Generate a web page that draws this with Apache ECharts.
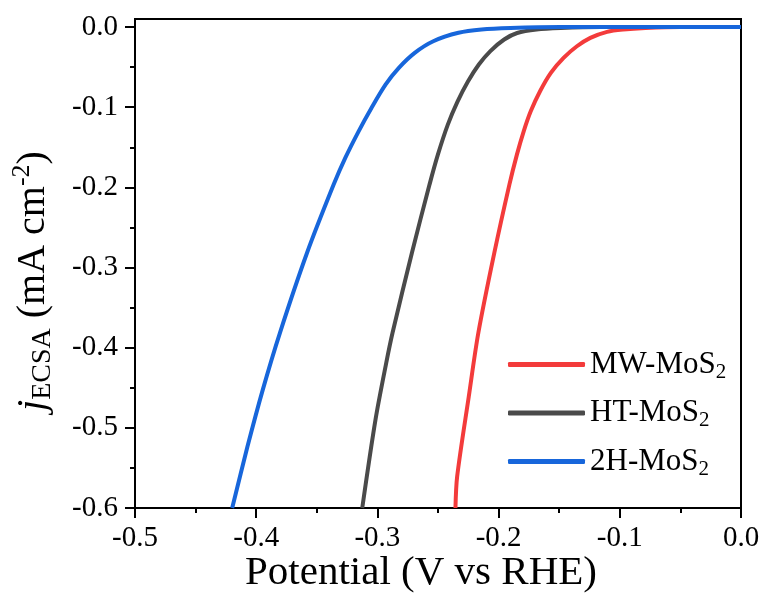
<!DOCTYPE html>
<html>
<head>
<meta charset="utf-8">
<script src="https://cdn.jsdelivr.net/npm/echarts@6/dist/echarts.min.js"></script>
<style>
  html, body { margin: 0; padding: 0; background: #ffffff; }
  #chart { width: 765px; height: 594px; }
</style>
</head>
<body>
<div id="chart"></div>
<script>
// Polarisation curves normalised by ECSA (potential in V vs RHE, current in mA cm^-2)
const seriesNames = ['MW-MoS2', 'HT-MoS2', '2H-MoS2'];
const seriesColors = ['#f33b3b', '#4a4a4a', '#1766db'];

const mwPotential = [-0.2356, -0.2342, -0.2246, -0.2167, -0.2035, -0.1911, -0.1849, -0.1793, -0.1735, -0.1658, -0.1569, -0.1464, -0.1354, -0.1243, -0.1105, -0.0972, -0.0788, -0.0499, 0.0];
const mwCurrent   = [-0.600, -0.5608, -0.4609, -0.3814, -0.2815, -0.1966, -0.1592, -0.1301, -0.1051, -0.0801, -0.0572, -0.0385, -0.0240, -0.0135, -0.0060, -0.0031, -0.0012, 0.0, 0.0];

const htPotential = [-0.3125, -0.3016, -0.2927, -0.2875, -0.2715, -0.2570, -0.2501, -0.2419, -0.2339, -0.2253, -0.2163, -0.2068, -0.1954, -0.1847, -0.1687, -0.1489, -0.1159, 0.0];
const htCurrent   = [-0.600, -0.4900, -0.4189, -0.3814, -0.2815, -0.1966, -0.1592, -0.1217, -0.0930, -0.0680, -0.0468, -0.0300, -0.0156, -0.0075, -0.0031, -0.0012, 0.0, 0.0];

const h2Potential = [-0.4198, -0.4072, -0.3946, -0.3804, -0.3581, -0.3361, -0.3265, -0.3155, -0.3049, -0.2933, -0.2823, -0.2692, -0.2539, -0.2331, -0.2141, -0.1902, -0.1489, 0.0];
const h2Current   = [-0.600, -0.5234, -0.4526, -0.3814, -0.2819, -0.1966, -0.1633, -0.1301, -0.1009, -0.0718, -0.0509, -0.0322, -0.0177, -0.0072, -0.0031, -0.0012, 0.0, 0.0];

// Axis ranges and tick spacing
const xMin = -0.5, xMax = 0.0, xStep = 0.1;
const yMin = -0.6, yMax = 0.0, yStep = 0.1;
const yTop = 0.01; // headroom above 0.0 inside the frame

const SERIF = '"Liberation Serif", "Times New Roman", serif';
const INK = '#000000';

const pairs = (xs, ys) => xs.map((x, i) => [x, ys[i]]);
const seriesData = [pairs(mwPotential, mwCurrent), pairs(htPotential, htCurrent), pairs(h2Potential, h2Current)];

const tickStyle = { color: INK, width: 2 };
const labelStyle = { color: INK, fontFamily: SERIF, fontSize: 29 };
const fmt = v => (Math.abs(v) < 1e-9 ? 0 : v).toFixed(1);

const chart = echarts.init(document.getElementById('chart'), null, { renderer: 'canvas' });

const option = {
  animation: false,
  backgroundColor: '#ffffff',
  grid: [
    { left: 135, right: 24, top: 19, bottom: 86, show: true, borderColor: INK, borderWidth: 2, backgroundColor: 'transparent' },
    { left: 135, right: 24, top: 27, bottom: 86, show: false }
  ],
  xAxis: [
    {
      gridIndex: 0, type: 'value', min: xMin, max: xMax, interval: xStep,
      axisLine: { show: true, onZero: false, lineStyle: { color: INK, width: 2 } },
      axisTick: { show: true, inside: false, length: 10, lineStyle: tickStyle },
      minorTick: { show: true, splitNumber: 2, length: 5, lineStyle: tickStyle },
      axisLabel: Object.assign({ margin: 16, formatter: fmt }, labelStyle),
      splitLine: { show: false }
    },
    { gridIndex: 1, type: 'value', min: xMin, max: xMax, show: false }
  ],
  yAxis: [
    {
      gridIndex: 0, type: 'value', min: yMin, max: yTop,
      axisLine: { show: true, onZero: false, lineStyle: { color: INK, width: 2 } },
      axisTick: { show: false }, axisLabel: { show: false }, splitLine: { show: false }
    },
    {
      gridIndex: 1, type: 'value', min: yMin, max: yMax, interval: yStep,
      axisLine: { show: false, onZero: false },
      axisTick: { show: true, inside: false, length: 10, lineStyle: tickStyle },
      minorTick: { show: true, splitNumber: 2, length: 5, lineStyle: tickStyle },
      axisLabel: Object.assign({ margin: 17, formatter: fmt }, labelStyle),
      splitLine: { show: false }
    }
  ],
  legend: {
    orient: 'vertical', left: 503, top: 344,
    itemWidth: 77, itemHeight: 5, itemGap: 15, icon: 'roundRect',
    data: seriesNames,
    formatter: n => '{m|' + n.slice(0, -1) + '}{s|' + n.slice(-1) + '}',
    textStyle: {
      color: INK, fontFamily: SERIF, fontSize: 31,
      rich: {
        m: { color: INK, fontFamily: SERIF, fontSize: 31, lineHeight: 36 },
        s: { color: INK, fontFamily: SERIF, fontSize: 21, lineHeight: 14, verticalAlign: 'bottom' }
      }
    }
  },
  graphic: [
    {
      type: 'text', x: 421, y: 573, silent: true,
      style: { text: 'Potential (V vs RHE)', fill: INK, fontFamily: SERIF, fontSize: 41, align: 'center', verticalAlign: 'middle' }
    },
    {
      type: 'text', x: 33, y: 281, rotation: Math.PI / 2, silent: true,
      style: {
        text: '{j|j}{e|ECSA}{n| (mA cm}{p|-2}{n|)}',
        align: 'center', verticalAlign: 'middle', fill: INK, fontFamily: SERIF, fontSize: 40,
        rich: {
          j: { fill: INK, fontFamily: SERIF, fontSize: 40, fontStyle: 'italic', lineHeight: 48 },
          e: { fill: INK, fontFamily: SERIF, fontSize: 28, lineHeight: 14, verticalAlign: 'bottom' },
          n: { fill: INK, fontFamily: SERIF, fontSize: 40, lineHeight: 48 },
          p: { fill: INK, fontFamily: SERIF, fontSize: 26, lineHeight: 28, verticalAlign: 'top' }
        }
      }
    }
  ],
  series: seriesNames.map((name, i) => ({
    name: name, type: 'line', xAxisIndex: 0, yAxisIndex: 0,
    data: seriesData[i],
    symbol: 'none', showSymbol: false,
    smooth: 0.3,
    color: seriesColors[i],
    lineStyle: { color: seriesColors[i], width: 4 },
    clip: true
  }))
};

chart.setOption(option);
</script>
</body>
</html>
